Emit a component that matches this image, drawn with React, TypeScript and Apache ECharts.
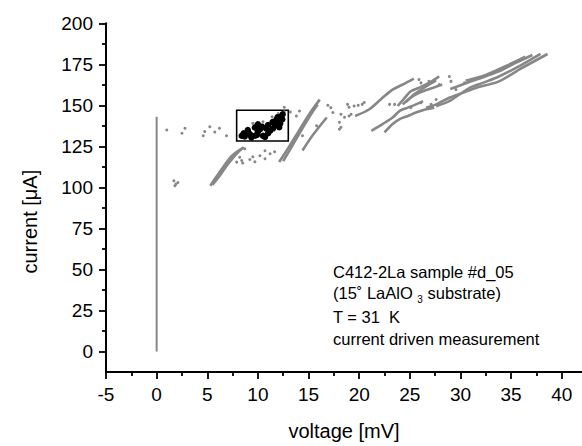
import React, { useEffect, useRef } from "react";
import * as echarts from "echarts";

// ---- axis ticks ----
const xMajor = [-5, 0, 5, 10, 15, 20, 25, 30, 35, 40];
const xMinor = [-2.5, 2.5, 7.5, 12.5, 17.5, 22.5, 27.5, 32.5, 37.5];
const yMajor = [0, 25, 50, 75, 100, 125, 150, 175, 200];
const yMinor = [12.5, 37.5, 62.5, 87.5, 112.5, 137.5, 162.5, 187.5];

// ---- measured branches (voltage mV, current µA) ----
const branchZero = [[0, 0], [0, 143]];
const branchA1 = [[5.3, 101], [5.9, 106.5], [6.7, 113.5], [7.4, 119], [8.1, 122.5], [8.5, 124]];
const branchA2 = [[5.5, 101.5], [6.1, 106], [6.9, 113], [7.6, 118.5], [8.3, 123], [8.6, 124.5]];
const branchB1 = [[12.1, 115.5], [13.0, 124], [14.0, 134], [15.0, 144], [16.1, 153.5]];
const branchB2 = [[12.5, 116], [13.4, 125.5], [14.5, 137], [15.4, 146], [15.9, 150.5]];
const branchB3 = [[14.4, 122.5], [15.2, 130], [16.0, 136.5], [16.8, 142.6]];
const branchC = [[19.6, 143.5], [21.0, 147.6], [22.3, 154.6], [23.3, 159.6], [24.3, 162.7], [25.4, 166.3]];
const branchD = [[21.2, 134.5], [22.3, 138.6], [23.3, 142.6], [24.0, 146.6], [24.8, 148.6], [25.6, 150.6], [26.3, 152.6]];
const branchE = [[22.5, 133.5], [23.3, 138.6], [24.0, 141.6], [24.8, 143.5], [25.6, 145.6], [26.6, 147.6], [27.4, 148.6]];
const branchF1 = [[23.8, 149.6], [24.5, 154.6], [25.1, 158.6], [25.9, 160.7], [26.9, 163.7], [27.9, 167.7]];
const branchF2 = [[24.3, 150.6], [25.3, 155.6], [26.3, 158.6], [27.3, 160.7], [28.2, 162.7]];
const branchF3 = [[24.6, 152], [25.5, 157], [26.6, 161.5], [27.6, 165.2]];
const branchR1 = [[26.6, 148.6], [27.6, 150.6], [28.9, 154.6], [30.2, 157.6], [31.5, 160.6], [33.8, 164.6], [36.0, 172.5], [38.6, 181.3]];
const branchR2 = [[27.6, 149.5], [28.9, 152.6], [29.9, 156.6], [30.9, 160.7], [32.2, 163.7], [33.8, 167.6], [36.0, 174.5], [37.9, 181.3]];
const branchR3 = [[29.0, 160], [30.2, 162.7], [31.5, 165.6], [33.8, 170.7], [35.5, 176], [37.1, 180.7]];
const branchR4 = [[30.5, 165], [32.5, 168.5], [34.5, 174], [36.4, 179.7]];

const grayDots = [
  [1.0, 135], [2.5, 133], [2.8, 136], [4.6, 131.5], [4.75, 134], [5.25, 137], [5.74, 133.7], [6.2, 136], [6.9, 131.5],
  [1.7, 104], [1.9, 102], [2.1, 103], [1.8, 101],
  [8.2, 118.4], [8.4, 116.4], [7.9, 115.4], [8.5, 114.8], [8.7, 123.5], [9.5, 118.7], [9.7, 115.6], [10.2, 119.3],
  [10.7, 122.3], [10.7, 117.5], [11.2, 120.5], [11.65, 121.7], [9.2, 117],
  [12.6, 148.8], [13.8, 143.5], [13.2, 146], [14.1, 146.6], [14.4, 131.5], [15.8, 137.5],
  [16.9, 150], [17.2, 148.6], [17.4, 145.6], [18.2, 144.6], [18.05, 139.7], [18.2, 136.6], [18.05, 135.5], [18.55, 142.7],
  [18.85, 150.6], [19.0, 148.8], [19.2, 144.6], [19.5, 149.6], [19.9, 150], [20.3, 150.6], [20.5, 151.7], [19.0, 143.5],
  [25.9, 165.7], [26.1, 163.7], [26.9, 164.6], [27.9, 162.7], [28.9, 167.6], [29.06, 164.6], [29.55, 159.6], [30.4, 163.7],
  [31.2, 165.7], [31.85, 166.6], [23.0, 150.6], [23.5, 150.6], [25.1, 148.6], [26.1, 151.6], [27.1, 150.6], [27.6, 153.6],
  [9.5, 139], [10.5, 140], [11.4, 143], [12.0, 145], [12.6, 146]
];

const blackDots = [
  [8.4, 131.5], [8.7, 131], [9.0, 133.5], [9.35, 130.5], [9.2, 132.5], [9.7, 131.5], [9.7, 136.5], [10.0, 134],
  [10.2, 135.5], [10.5, 131.5], [10.7, 130.7], [10.4, 137], [10.8, 136], [11.0, 138], [11.2, 134.5], [11.45, 139.8],
  [11.5, 136], [11.8, 141], [11.95, 142.8], [12.1, 136.7], [12.2, 139], [12.44, 144.6], [12.3, 143], [10.0, 138.5],
  [9.0, 135], [11.0, 133], [11.7, 138], [12.4, 141.5], [8.6, 133], [9.9, 132]
];

const zoomBox = [[7.9, 128.3], [13.0, 147]];

const annotation = [
  "C412-2La sample #d_05",
  "(15˚ LaAlO {s|3} substrate)",
  "T = 31  K",
  "current driven measurement"
];

const FONT = "'Liberation Sans', Arial, Helvetica, sans-serif";
const GRAY = "#878787";

export default function App() {
  const ref = useRef<HTMLDivElement>(null);
  useEffect(() => {
    if (!ref.current) return;
    const chart = echarts.init(ref.current, null, { renderer: "svg" });
    const branches = [branchA1, branchA2, branchB1, branchB2, branchB3, branchC, branchD, branchE,
      branchF1, branchF2, branchF3, branchR1, branchR2, branchR3, branchR4];
    const lineSeries: any[] = branches.map((b) => ({
      type: "line",
      data: b,
      showSymbol: false,
      smooth: 0.3,
      lineStyle: { color: GRAY, width: 2.6 },
      xAxisIndex: 0,
      yAxisIndex: 0,
      z: 2
    }));
    lineSeries.push({
      type: "line",
      data: branchZero,
      showSymbol: false,
      lineStyle: { color: GRAY, width: 2 },
      z: 2
    });
    const common = {
      min: -5,
      max: 42,
      type: "value",
      splitLine: { show: false }
    };
    const option: any = {
      animation: false,
      backgroundColor: "#fff",
      grid: { left: 106, right: 0, top: 23.3, bottom: 70.3 },
      xAxis: [
        {
          ...common,
          axisLine: { show: true, onZero: false, lineStyle: { color: "#000", width: 2 } },
          axisTick: { show: true, length: 7, customValues: xMajor, lineStyle: { color: "#000", width: 1.8 } },
          axisLabel: { customValues: xMajor, color: "#000", fontSize: 19, fontFamily: FONT, margin: 13 },
          name: "voltage [mV]",
          nameLocation: "middle",
          nameGap: 49,
          nameTextStyle: { color: "#000", fontSize: 20, fontFamily: FONT }
        },
        {
          ...common,
          position: "bottom",
          axisLine: { show: false, onZero: false },
          axisTick: { show: true, length: 4, customValues: xMinor, lineStyle: { color: "#000", width: 1.8 } },
          axisLabel: { show: false }
        }
      ],
      yAxis: [
        {
          type: "value",
          min: -12.5,
          max: 200,
          splitLine: { show: false },
          axisLine: { show: true, onZero: false, lineStyle: { color: "#000", width: 2 } },
          axisTick: { show: true, length: 7, customValues: yMajor, lineStyle: { color: "#000", width: 1.8 } },
          axisLabel: { customValues: yMajor, color: "#000", fontSize: 19, fontFamily: FONT, margin: 13 },
          name: "current [μA]",
          nameLocation: "middle",
          nameGap: 66,
          nameTextStyle: { color: "#000", fontSize: 20, fontFamily: FONT, padding: [0, 48, 0, 0] }
        },
        {
          type: "value",
          min: -12.5,
          max: 200,
          position: "left",
          splitLine: { show: false },
          axisLine: { show: false, onZero: false },
          axisTick: { show: true, length: 4, customValues: yMinor, lineStyle: { color: "#000", width: 1.8 } },
          axisLabel: { show: false }
        }
      ],
      graphic: annotation.map((t, i) => ({
        type: "text",
        left: 333,
        top: [261, 282, 306, 328][i],
        style: {
          text: t,
          fill: "#000",
          fontSize: 16.5,
          fontFamily: FONT,
          lineHeight: 22,
          rich: {
            s: { fontSize: 10, lineHeight: 6, verticalAlign: "bottom", fill: "#000", fontFamily: FONT }
          }
        }
      })),
      series: [
        ...lineSeries,
        {
          type: "scatter",
          data: grayDots,
          symbolSize: 3,
          itemStyle: { color: GRAY, opacity: 1 },
          z: 3
        },
        {
          type: "scatter",
          data: blackDots,
          symbolSize: 6.5,
          itemStyle: { color: "#000", opacity: 1 },
          z: 4,
          markArea: {
            silent: true,
            itemStyle: { color: "rgba(0,0,0,0)", borderColor: "#000", borderWidth: 1.6 },
            data: [[{ coord: zoomBox[0] }, { coord: zoomBox[1] }]]
          }
        }
      ]
    };
    chart.setOption(option);
    return () => chart.dispose();
  }, []);
  return (
    <div
      ref={ref}
      style={{ position: "fixed", left: 0, top: 0, width: 582, height: 446, background: "#fff" }}
    />
  );
}
